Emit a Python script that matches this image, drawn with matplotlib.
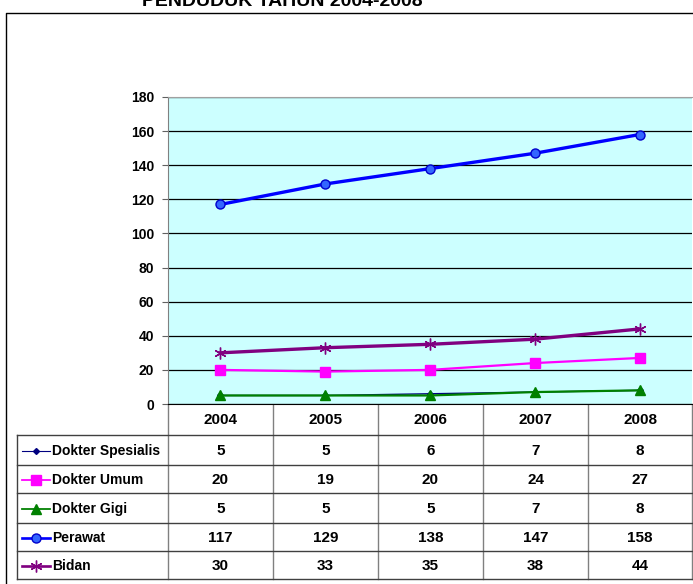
import matplotlib.pyplot as plt
from matplotlib.lines import Line2D

plt.rcParams['font.family'] = ['Liberation Sans', 'DejaVu Sans']
plt.rcParams['font.weight'] = 'bold'

# data
years = ['2004', '2005', '2006', '2007', '2008']
spesialis = [5, 5, 6, 7, 8]
umum = [20, 19, 20, 24, 27]
gigi = [5, 5, 5, 7, 8]
perawat = [117, 129, 138, 147, 158]
bidan = [30, 33, 35, 38, 44]

series = [
    ('Dokter Spesialis', spesialis, dict(color='#000080', marker='D', ms=3, lw=1.0, mfc='#000080', mec='#000080')),
    ('Dokter Umum', umum, dict(color='#FF00FF', marker='s', ms=6.5, lw=1.6, mfc='#FF00FF', mec='#FF00FF')),
    ('Dokter Gigi', gigi, dict(color='#008000', marker='^', ms=7.5, lw=1.6, mfc='#008000', mec='#008000')),
    ('Perawat', perawat, dict(color='#0000FF', marker='o', ms=6.5, lw=2.4, mfc='#3366FF', mec='#0000CC')),
    ('Bidan', bidan, dict(color='#800080', marker=(6, 2, 0), ms=8.5, lw=2.4, mfc='#800080', mec='#800080', mew=1.0)),
]

W, H = 693, 584
fig = plt.figure(figsize=(W / 100, H / 100), dpi=100)

# overlay axes in pixel coords for frame, title and table
ov = fig.add_axes([0, 0, 1, 1])
ov.set_xlim(0, W)
ov.set_ylim(H, 0)
ov.axis('off')

# outer frame
ov.plot([6, 6, W + 5], [H + 5, 13, 13], color='black', lw=1.0)
ov.text(282, 6, 'PENDUDUK TAHUN 2004-2008', ha='center', va='baseline',
        fontsize=14, fontweight='bold', clip_on=False)

# plot area
left, right, top, bottom = 168, 692, 97, 404
ax = fig.add_axes([left / W, 1 - bottom / H, (right - left) / W, (bottom - top) / H])
ax.set_facecolor('#CCFFFF')
x = list(range(len(years)))
for name, vals, st in series:
    ax.plot(x, vals, zorder=3, clip_on=False, **st)
ax.set_xlim(-0.5, len(years) - 0.5)
ax.set_ylim(0, 180)
ax.set_yticks(range(0, 181, 20))
ax.set_yticklabels([str(v) for v in range(0, 181, 20)], fontsize=10, fontweight='bold')
ax.yaxis.grid(True, color='black', lw=0.9)
ax.set_axisbelow(True)
ax.set_xticks([])
ax.tick_params(axis='y', direction='out', length=4, width=0.8, color='#606060', pad=6)
ax.spines['top'].set_color('#A0A0A0')
ax.spines['left'].set_color('#808080')
ax.spines['right'].set_visible(False)
ax.spines['bottom'].set_color('black')

# table
col_edges = [168, 273, 378, 483, 588, 692]
row_edges = [435, 465, 493, 523, 551, 579]
tab_left = 17
lc = '#404040'
for cx in col_edges:
    ov.plot([cx, cx], [bottom, row_edges[-1]], color='#808080', lw=1.0)
ov.plot([tab_left, tab_left], [row_edges[0], row_edges[-1]], color=lc, lw=1.0)
for ry in row_edges:
    ov.plot([tab_left, col_edges[-1]], [ry, ry], color=lc, lw=1.0)

for i, yr in enumerate(years):
    cx = (col_edges[i] + col_edges[i + 1]) / 2
    ov.text(cx, (bottom + row_edges[0]) / 2 + 1, yr, ha='center', va='center', fontsize=11, fontweight='bold')

for r, (name, vals, st) in enumerate(series):
    cy = (row_edges[r] + row_edges[r + 1]) / 2 + 1
    ov.add_line(Line2D([22, 50], [cy, cy], color=st['color'], lw=st['lw'] * 0.8))
    ov.add_line(Line2D([36], [cy], marker=st['marker'], ms=st['ms'], mfc=st['mfc'], mec=st['mec'],
                       mew=st.get('mew', 1.0), ls='none'))
    ov.text(52, cy, name, ha='left', va='center', fontsize=10, fontweight='bold')
    for i, v in enumerate(vals):
        cx = (col_edges[i] + col_edges[i + 1]) / 2
        ov.text(cx, cy, str(v), ha='center', va='center', fontsize=11, fontweight='bold')

fig.savefig('out.png', dpi=100)
